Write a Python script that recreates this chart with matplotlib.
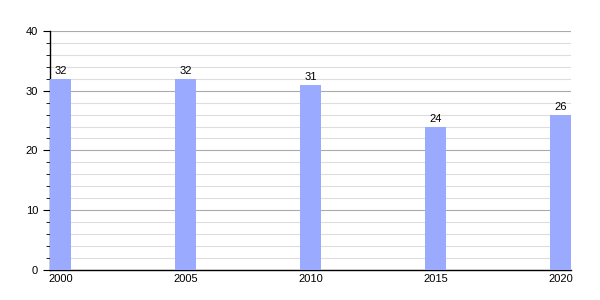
import matplotlib
matplotlib.use("Agg")
import matplotlib.pyplot as plt
from matplotlib.ticker import MultipleLocator

years = [2000, 2005, 2010, 2015, 2020]
values = [32, 32, 31, 24, 26]

plt.rcParams['font.family'] = ['Liberation Sans', 'DejaVu Sans']

fig = plt.figure(figsize=(6, 3), dpi=100)
ax = fig.add_axes([0.0833, 0.1, 0.869, 0.797])

ax.bar(years, values, width=0.84, color='#99aaff', zorder=3)
for x, v in zip(years, values):
    ax.text(x, v + 0.4, str(v), ha='center', va='bottom', fontsize=8, zorder=4)

ax.set_xlim(2000 - 0.42, 2020 + 0.42)
ax.set_ylim(0, 40)
ax.set_xticks(years)
ax.yaxis.set_major_locator(MultipleLocator(10))
ax.yaxis.set_minor_locator(MultipleLocator(2))
ax.grid(axis='y', which='major', color='#aaaaaa', linewidth=0.8, zorder=0)
ax.grid(axis='y', which='minor', color='#dddddd', linewidth=0.8, zorder=0)
ax.tick_params(axis='x', length=0, labelsize=8, pad=3)
ax.tick_params(axis='y', which='major', length=5, labelsize=8, direction='out')
ax.tick_params(axis='y', which='minor', length=3, direction='out')
for s in ['top', 'right']:
    ax.spines[s].set_visible(False)
ax.spines['left'].set_linewidth(1)
ax.spines['bottom'].set_linewidth(1)

fig.savefig("out.png", dpi=100)
